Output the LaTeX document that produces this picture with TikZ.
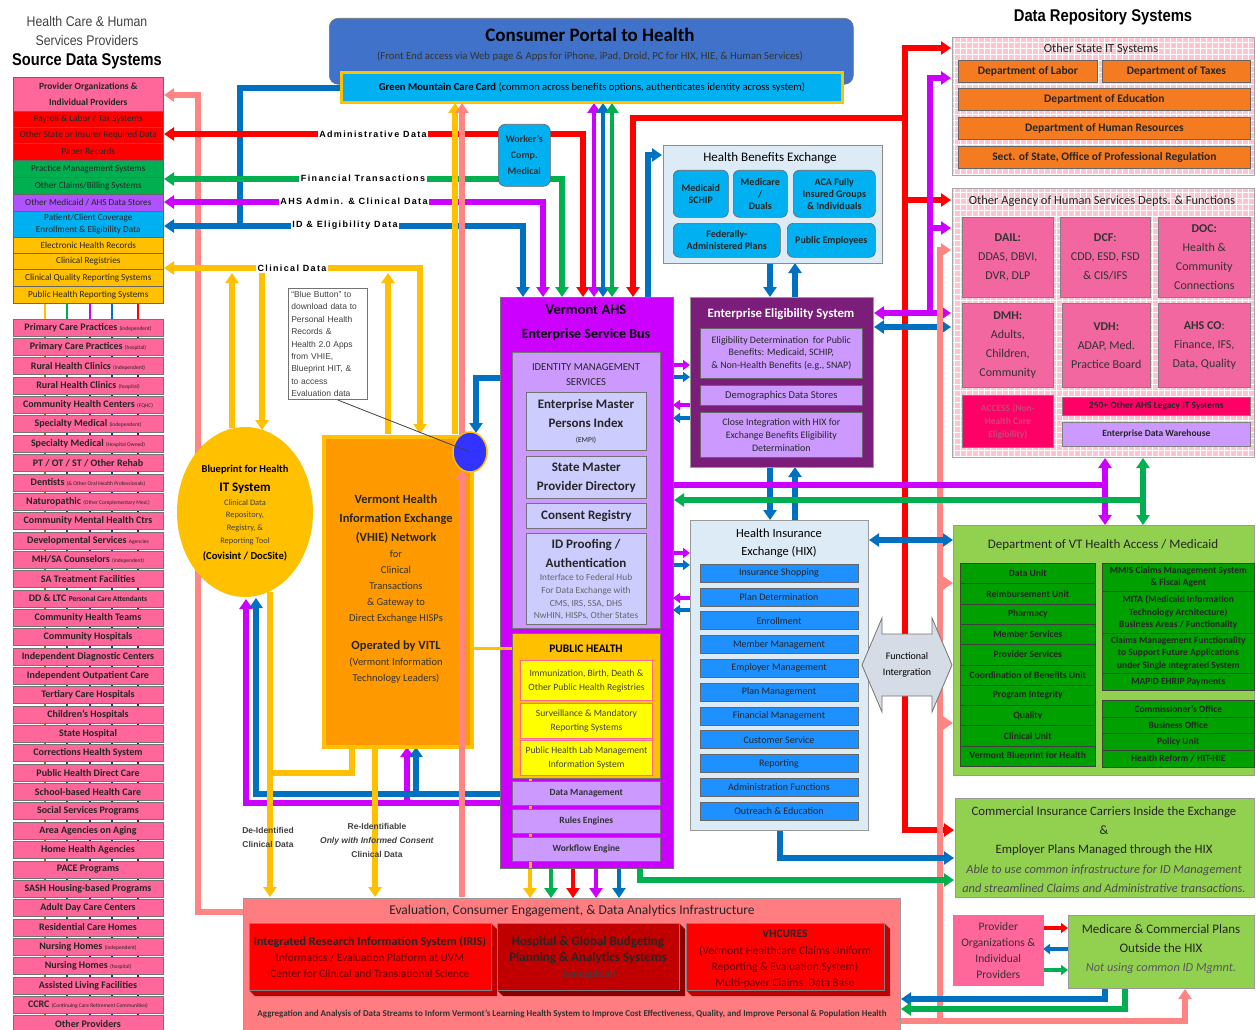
\documentclass[tikz,border=0pt]{standalone}
\usepackage{fontspec}
\usepackage{graphicx}
\setmainfont{Carlito}
\newfontfamily\arialf{Liberation Sans}
\newfontfamily\widef[LetterSpace=15]{Liberation Sans}
\usetikzlibrary{arrows.meta,shapes.geometric}
\newcommand{\smallnote}[1]{{\mdseries\fontsize{5.5}{6}\selectfont #1}}
\definecolor{cpink}{HTML}{FF6699}
\definecolor{cred}{HTML}{FF0000}
\definecolor{cgreen}{HTML}{00B050}
\definecolor{cpurple}{HTML}{CC00FF}
\definecolor{clpurple}{HTML}{B052FF}
\definecolor{ccyan}{HTML}{00B0F0}
\definecolor{cyellow}{HTML}{FFC000}
\definecolor{cblue}{HTML}{0070C0}
\definecolor{csalmon}{HTML}{FF8585}
\definecolor{corange}{HTML}{FF9900}
\definecolor{cportal}{HTML}{3F72C8}
\definecolor{clilac}{HTML}{CC99FF}
\definecolor{cperi}{HTML}{CCCCFF}
\definecolor{cees}{HTML}{7A1E7A}
\definecolor{clightblue}{HTML}{DDEBF7}
\definecolor{chixbtn}{HTML}{1E90FF}
\definecolor{cchk}{HTML}{FFC4D2}
\definecolor{cdept}{HTML}{F47B20}
\definecolor{cahs}{HTML}{F2679F}
\definecolor{chot}{HTML}{FF0066}
\definecolor{clgreen}{HTML}{92D050}
\definecolor{cdgreen}{HTML}{00A000}
\definecolor{cevalbg}{HTML}{FF7C80}
\definecolor{cdred}{HTML}{C00000}
\definecolor{cddred}{HTML}{8A0000}
\definecolor{cbtn}{HTML}{3333FF}
\definecolor{cfunc}{HTML}{D6DCE5}
\definecolor{cphy}{HTML}{FFFF00}
\definecolor{caccTxt}{HTML}{C8487A}
\tikzset{
  bx/.style={draw=black!60, line width=0.6pt, inner sep=1pt, align=center, anchor=north west},
  prow/.style={draw=black!55, fill=cpink, line width=0.6pt, minimum width=150pt, minimum height=17pt, inner sep=0pt, font=\bfseries\fontsize{10}{10}\selectfont, text=black!85},
  trow/.style={bx, minimum width=150pt, inner sep=0pt, font=\fontsize{9.2}{10}\selectfont, text=black!85},
  dl/.style={line width=5.5pt},
  tl/.style={line width=4pt},
  ar1/.style={-{Triangle[width=13pt,length=10pt]}},
  ar2/.style={{Triangle[width=13pt,length=10pt]}-{Triangle[width=13pt,length=10pt]}},
  sar1/.style={-{Triangle[width=10pt,length=7pt]}},
  lbl/.style={fill=white, inner sep=1.5pt, font=\widef\bfseries\fontsize{9}{10}\selectfont},
  txt/.style={align=center, inner sep=0pt},
  ibox/.style={bx, draw=black!55, fill=cperi, minimum width=120pt},
  phbox/.style={bx, draw=cpink, line width=1pt, fill=cphy, minimum width=132pt, font=\fontsize{9.6}{14}\selectfont, text=black!75},
  dmb/.style={bx, draw=black!55, fill=clilac, minimum width=148pt, minimum height=24pt, font=\bfseries\fontsize{9.5}{10}\selectfont, text=black!80},
  hbtn/.style={bx, draw=black!60, fill=ccyan, rounded corners=6pt, font=\bfseries\fontsize{10}{12}\selectfont, text=black!85},
  eesb/.style={bx, draw=black!60, fill=clilac, minimum width=162pt, font=\fontsize{9.9}{12.8}\selectfont, text=black!85},
  dept/.style={bx, draw=black!60, line width=0.8pt, fill=cdept, minimum height=22pt, font=\bfseries\fontsize{11.5}{12}\selectfont, text=black!85},
  ahsb/.style={bx, draw=black!50, fill=cahs, font=\fontsize{12}{19}\selectfont, text=black!80},
  dunit/.style={bx, draw=black!75, fill=cdgreen, inner sep=0pt, font=\bfseries\fontsize{9.6}{10}\selectfont, text=black!85},
  runit/.style={dunit, minimum width=152pt, font=\bfseries\fontsize{9.5}{12.3}\selectfont},
}
\begin{document}
\begin{tikzpicture}[x=1pt,y=-1pt]
\useasboundingbox (0,0) rectangle (1256,1030);
\fill[white] (0,0) rectangle (1256,1030);

% ---------------- left header ----------------
\node[txt, font=\arialf\fontsize{14}{19}\selectfont, text=black!75] (hdr1) at (87,31) {\scalebox{0.88}[1]{Health Care \& Human}\\\scalebox{0.88}[1]{Services Providers}};
\node[txt, font=\arialf\bfseries\fontsize{17}{18}\selectfont] (hdr2) at (87,61) {\scalebox{0.86}[1]{Source Data Systems}};

% colored vertical lines behind provider rows
\foreach \xx/\cc in {45/cyellow,67/cgreen,90/cpurple,112/cblue,138/cred}{
  \draw[line width=2.5pt,\cc] (\xx,303) -- (\xx,320);
  \draw[line width=2.5pt,\cc!60!black] (\xx,320) -- (\xx,1030);
}

% ---------------- connectors (behind boxes) ----------------
\draw[dl,csalmon,ar1] (243,912) -- (198,912) -- (198,95) -- (164,95);
\draw[dl,cblue] (340,88) -- (240,88) -- (240,226);
\draw[dl,cred,ar2] (583,297) -- (583,134) -- (164,134);
\draw[dl,cgreen,ar2] (562,297) -- (562,179) -- (164,179);
\draw[dl,cpurple,ar2] (543,297) -- (543,202) -- (164,202);
\draw[dl,cblue,ar2] (523,297) -- (523,226) -- (164,226);
\draw[dl,cyellow,ar2] (420,434) -- (420,268) -- (164,268);
\draw[dl,cyellow,ar1] (232,428) -- (232,273);
\draw[dl,cyellow,ar1] (262,268) -- (262,430);
\draw[dl,cyellow,ar1] (388,434) -- (388,273);
\draw[dl,cyellow,ar1] (455,434) -- (455,103);
\draw[dl,csalmon,ar1] (462,440) -- (462,103);
\draw[dl,cblue,ar1] (500,378) -- (476,378) -- (476,433);
\draw[tl,cpurple,ar2] (594,297) -- (594,103);
\draw[tl,cblue,ar2] (603,297) -- (603,103);
\draw[tl,cgreen,ar2] (612,297) -- (612,103);
% to data repositories
\draw[dl,cred,ar2] (633,297) -- (633,118) -- (905,118) -- (905,48) -- (951,48);
\draw[dl,cred,ar1] (905,118) -- (905,830) -- (954,830);
\draw[dl,cred,ar1] (905,200) -- (951,200);
\draw[dl,cpurple,ar1] (930,313) -- (930,78) -- (951,78);
\draw[dl,cpurple,ar1] (930,228) -- (951,228);
\draw[dl,cpurple,ar2] (874,313) -- (951,313);
\draw[dl,cblue,ar2] (874,327) -- (951,327);
\draw[dl,csalmon,ar1] (900,1021) -- (940,1021) -- (940,250) -- (951,250);
\draw[dl,csalmon,ar1] (940,1021) -- (1185,1021) -- (1185,989);
\draw[dl,csalmon,ar1] (940,583) -- (953,583);
\draw[dl,csalmon,ar1] (940,723) -- (953,723);
% HBE / EES / HIX
\draw[dl,cblue,ar1] (648,297) -- (648,155) -- (662,155);
\draw[dl,cblue,ar1] (770,263) -- (770,297);
\draw[dl,cblue,ar1] (795,297) -- (795,263);
\draw[dl,cblue,ar1] (770,467) -- (770,520);
\draw[dl,cblue,ar1] (795,520) -- (795,467);
\draw[tl,cpurple,sar1] (673,365) -- (690,365);
\draw[tl,cblue,sar1] (673,377) -- (690,377);
\draw[tl,cpurple,sar1] (690,405) -- (673,405);
\draw[tl,cblue,sar1] (690,418) -- (673,418);
\draw[tl,cpurple,sar1] (673,553) -- (690,553);
\draw[tl,cblue,sar1] (673,565) -- (690,565);
\draw[tl,cpurple,sar1] (690,598) -- (673,598);
\draw[tl,cblue,sar1] (690,610) -- (673,610);
\draw[dl,cpurple] (673,485) -- (1105,485);
\draw[dl,cpurple,ar2] (1105,458) -- (1105,525);
\draw[dl,cgreen,ar1] (1143,500) -- (674,500);
\draw[dl,cgreen,ar2] (1143,458) -- (1143,525);
\draw[dl,cblue,ar2] (869,540) -- (953,540);
\draw[dl,cblue,ar1] (780,830) -- (780,858) -- (954,858);
\draw[dl,cgreen,ar1] (640,868) -- (640,880) -- (954,880);
\draw[tl,cred,sar1] (1043,928) -- (1068,928);
\draw[tl,cblue,sar1] (1068,949) -- (1043,949);
\draw[tl,cgreen,sar1] (1043,970) -- (1068,970);
\draw[dl,cblue,ar1] (1105,988) -- (1105,999) -- (901,999);
\draw[dl,cgreen,ar1] (1125,988) -- (1125,1009) -- (901,1009);
\draw[tl,cyellow,ar1] (530,868) -- (530,898);
\draw[tl,cgreen,ar1] (551,868) -- (551,898);
\draw[tl,cred,ar1] (573,868) -- (573,898);
\draw[tl,cpurple,ar1] (596,868) -- (596,898);
\draw[tl,cblue,ar1] (619,868) -- (619,898);
\draw[dl,cpurple,ar1] (500,803) -- (246,803) -- (246,599);
\draw[dl,cpurple,ar1] (407,803) -- (407,747);
\draw[dl,cblue,ar1] (500,794) -- (256,794) -- (256,598);
\draw[dl,cblue,ar1] (416,794) -- (416,747);
\draw[dl,cyellow,ar1] (270,592) -- (270,897);
\draw[dl,cyellow] (352,745) -- (352,773) -- (270,773);
\draw[dl,cyellow,ar1] (375,745) -- (375,897);

% ---------------- left column ----------------
\node[trow, fill=cpink, minimum height=34pt, font=\bfseries\fontsize{9.5}{16}\selectfont] (p0) at (13,77) {Provider Organizations \&\\Individual Providers};
\node[trow, fill=cred, minimum height=16pt] (p1) at (13,111) {Payroll \& Labor / Tax Systems};
\node[trow, fill=cred, minimum height=16pt] (p2) at (13,127) {Other State or Insurer Required Data};
\node[trow, fill=cred, minimum height=17pt] (p3) at (13,143) {Paper Records};
\node[trow, fill=cgreen, minimum height=17pt] (p4) at (13,160) {Practice Management Systems};
\node[trow, fill=cgreen, minimum height=17pt] (p5) at (13,177) {Other Claims/Billing Systems};
\node[trow, fill=clpurple, minimum height=17pt] (p6) at (13,194) {Other Medicaid / AHS Data Stores};
\node[trow, fill=ccyan, minimum height=26pt, font=\fontsize{9.2}{12}\selectfont] (p7) at (13,211) {Patient/Client Coverage\\Enrollment \& Eligibility Data};
\node[trow, fill=cyellow, minimum height=16pt] (p8) at (13,237) {Electronic Health Records};
\node[trow, fill=cyellow, minimum height=16pt] (p9) at (13,253) {Clinical Registries};
\node[trow, fill=cyellow, minimum height=17pt] (p10) at (13,269) {Clinical Quality Reporting Systems};
\node[trow, fill=cyellow, minimum height=17pt] (p11) at (13,286) {Public Health Reporting Systems};

\foreach \t [count=\i] in {
 {Primary Care Practices \smallnote{(independent)}},
 {Primary Care Practices \smallnote{(hospital)}},
 {Rural Health Clinics \smallnote{(independent)}},
 {Rural Health Clinics \smallnote{(hospital)}},
 {Community Health Centers \smallnote{(FQHC)}},
 {Specialty Medical \smallnote{(independent)}},
 {Specialty Medical \smallnote{(Hospital Owned)}},
 {PT / OT / ST / Other Rehab},
 {Dentists \smallnote{(\& Other Oral Health Professionals)}},
 {Naturopathic \smallnote{(Other Complementary Med.)}},
 {Community Mental Health Ctrs},
 {Developmental Services \smallnote{Agencies}},
 {MH/SA Counselors \smallnote{(independent)}},
 {SA Treatment Facilities},
 {DD \& LTC {\fontsize{7.5}{8}\selectfont Personal Care Attendants}},
 {Community Health Teams},
 {Community Hospitals},
 {Independent Diagnostic Centers},
 {Independent Outpatient Care},
 {Tertiary Care Hospitals},
 {Children’s Hospitals},
 {State Hospital},
 {Corrections Health System},
 {Public Health Direct Care},
 {School-based Health Care},
 {Social Services Programs},
 {Area Agencies on Aging},
 {Home Health Agencies},
 {PACE Programs},
 {SASH Housing-based Programs},
 {Adult Day Care Centers},
 {Residential Care Homes},
 {Nursing Homes \smallnote{(independent)}},
 {Nursing Homes \smallnote{(hospital)}},
 {Assisted Living Facilities},
 {CCRC \smallnote{(Continuing Care Retirement Communities)}},
 {Other Providers}}{
  \node[prow] (r\i) at (88,{327.5+19.35*(\i-1)}) {\t};
}

% ---------------- consumer portal ----------------
\node[bx, draw=black!55, fill=cportal, rounded corners=9pt, minimum width=524pt, minimum height=66pt] (portal) at (329,18) {};
\node[txt, font=\bfseries\fontsize{19}{20}\selectfont] (portalt) at (590,35) {Consumer Portal to Health};
\node[txt, font=\fontsize{10.7}{11}\selectfont, text=black!80] (portals) at (590,57) {(Front End access via Web page \& Apps for iPhone, iPad, Droid, PC for HIX, HIE, \& Human Services)};
\node[bx, draw=cyellow, line width=3pt, fill=ccyan, minimum width=501pt, minimum height=30pt, font=\fontsize{10.6}{11}\selectfont] (gmcc) at (340,71) {\textbf{Green Mountain Care Card} (common across benefits options, authenticates identity across system)};

\node[bx, draw=black!60, fill=ccyan, rounded corners=7pt, minimum width=52pt, minimum height=62pt, font=\bfseries\fontsize{10}{16}\selectfont, text=black!80] (wc) at (498,124) {Worker’s\\Comp.\\Medical};

% ---------------- HBE ----------------
\node[bx, draw=black!45, line width=1pt, fill=clightblue, minimum width=219pt, minimum height=118pt] (hbe) at (663,145) {};
\node[txt, font=\fontsize{13}{14}\selectfont] (hbet) at (770,158) {Health Benefits Exchange};
\node[hbtn, minimum width=55pt, minimum height=47pt] (hb1) at (673,170) {Medicaid\\SCHIP};
\node[hbtn, minimum width=54pt, minimum height=47pt] (hb2) at (733,170) {Medicare\\/\\Duals};
\node[hbtn, minimum width=82pt, minimum height=47pt] (hb3) at (793,170) {ACA Fully\\Insured Groups\\\& Individuals};
\node[hbtn, minimum width=107pt, minimum height=34pt] (hb4) at (673,223) {Federally-\\Administered Plans};
\node[hbtn, minimum width=88pt, minimum height=34pt] (hb5) at (787,223) {Public Employees};

% ---------------- ESB ----------------
\node[bx, draw=black!55, fill=cpurple, minimum width=173pt, minimum height=571pt] (esb) at (500,297) {};
\node[txt, font=\bfseries\fontsize{14.5}{15}\selectfont] (esbt1) at (586,310) {Vermont AHS};
\node[txt, font=\bfseries\fontsize{14}{15}\selectfont] (esbt2) at (586,335) {Enterprise Service Bus};
\draw[line width=3pt,cyellow] (530,778) -- (530,868);
\node[bx, draw=black!55, fill=clilac, minimum width=148pt, minimum height=276pt] (idm) at (512,352) {};
\node[txt, font=\fontsize{10.6}{15}\selectfont, text=black!85] (idmt) at (586,374.5) {IDENTITY MANAGEMENT\\SERVICES};
\node[ibox, minimum height=58pt] (empi) at (526,392) {};
\node[txt, font=\bfseries\fontsize{13}{19}\selectfont, text=black!85] (empit) at (586,413.5) {Enterprise Master\\Persons Index};
\node[txt, font=\fontsize{7.5}{8}\selectfont, text=black!85] (empis) at (586,440) {(EMPI)};
\node[ibox, minimum height=42pt, font=\bfseries\fontsize{13}{19}\selectfont, text=black!85] (smpd) at (526,456) {State Master\\Provider Directory};
\node[ibox, minimum height=25pt, font=\bfseries\fontsize{13}{14}\selectfont, text=black!85] (cons) at (526,503) {Consent Registry};
\node[ibox, minimum height=91pt] (idp) at (526,533) {};
\node[txt, font=\bfseries\fontsize{13}{19}\selectfont, text=black!85] (idpt) at (586,553.5) {ID Proofing /\\Authentication};
\node[txt, font=\fontsize{9.4}{12.7}\selectfont, text=black!60] (idps) at (586,597) {Interface to Federal Hub\\For Data Exchange with\\CMS, IRS, SSA, DHS\\NwHIN, HISPs, Other States};
\node[bx, draw=black!55, fill=cyellow, minimum width=148pt, minimum height=145pt] (ph) at (512,633) {};
\node[txt, font=\bfseries\fontsize{11.5}{12}\selectfont] (pht) at (586,649) {PUBLIC HEALTH};
\node[phbox, minimum height=40pt] (ph1) at (520,660) {Immunization, Birth, Death \&\\Other Public Health Registries};
\node[phbox, minimum height=35pt] (ph2) at (520,703) {Surveillance \& Mandatory\\Reporting Systems};
\node[phbox, minimum height=35pt] (ph3) at (520,740) {Public Health Lab Management\\Information System};
\node[dmb] (dm) at (512,781) {Data Management};
\node[dmb] (re) at (512,809) {Rules Engines};
\node[dmb] (wf) at (512,837) {Workflow Engine};

% ---------------- EES ----------------
\node[bx, draw=black!40, line width=1pt, fill=cees, minimum width=183pt, minimum height=170pt] (ees) at (690,297) {};
\node[txt, text=white, font=\bfseries\fontsize{12.8}{13}\selectfont] (eest) at (781,314) {Enterprise Eligibility System};
\node[eesb, minimum height=50pt] (ees1) at (700,328) {Eligibility Determination~ for Public\\Benefits: Medicaid, SCHIP,\\\& Non-Health Benefits (e.g., SNAP)};
\node[eesb, minimum height=20pt, font=\fontsize{10.5}{11}\selectfont] (ees2) at (700,385) {Demographics Data Stores};
\node[eesb, minimum height=45pt] (ees3) at (700,412) {Close Integration with HIX for\\Exchange Benefits Eligibility\\Determination};

% ---------------- HIX ----------------
\node[bx, draw=black!40, line width=1pt, fill=clightblue, minimum width=178pt, minimum height=310pt] (hix) at (690,520) {};
\node[txt, font=\fontsize{12.5}{18}\selectfont] (hixt) at (779,543) {Health Insurance\\Exchange (HIX)};
\foreach \t [count=\i] in {Insurance Shopping, Plan Determination, Enrollment, Member Management, Employer Management, Plan Management, Financial Management, Customer Service, Reporting, Administration Functions, Outreach \& Education}{
  \node[draw=black!60, fill=chixbtn, minimum width=158pt, minimum height=18pt, inner sep=0pt, font=\fontsize{10}{10}\selectfont, text=black!85] (hx\i) at (779,{573+23.8*(\i-1)}) {\t};
}

% functional integration arrow
\filldraw[fill=cfunc, draw=black!55, line width=0.8pt] (862,665) -- (882,618) -- (882,634) -- (932,634) -- (932,618) -- (952,665) -- (932,712) -- (932,696) -- (882,696) -- (882,712) -- cycle;
\node[txt, font=\fontsize{10}{16}\selectfont] (fi) at (907,665) {Functional\\Intergration};

% ---------------- Blueprint / VHIE ----------------
\node[ellipse, fill=cyellow, minimum width=136pt, minimum height=170pt, inner sep=0pt] (bp) at (245,512) {};
\node[txt, font=\bfseries\fontsize{10.5}{11}\selectfont] (bpt1) at (245,470) {Blueprint for Health};
\node[txt, font=\bfseries\fontsize{13}{14}\selectfont] (bpt2) at (245,488) {IT System};
\node[txt, font=\fontsize{8.4}{12.7}\selectfont, text=black!75] (bpt3) at (245,522) {Clinical Data\\Repository,\\Registry, \&\\Reporting Tool};
\node[txt, font=\bfseries\fontsize{10.6}{11}\selectfont] (bpt4) at (245,556) {(Covisint / DocSite)};

\node[bx, draw=cyellow, line width=4pt, fill=corange, minimum width=148pt, minimum height=310pt] (vhie) at (322,435) {};
\node[txt, font=\bfseries\fontsize{12.5}{19}\selectfont, text=black!85] (vh1) at (396,519) {Vermont Health\\Information Exchange\\(VHIE) Network};
\node[txt, font=\fontsize{10.5}{16}\selectfont, text=black!80] (vh2) at (396,587) {for\\Clinical\\Transactions\\\& Gateway to\\Direct Exchange HISPs};
\node[txt, font=\bfseries\fontsize{12.5}{13}\selectfont, text=black!85] (vh3) at (396,646) {Operated by VITL};
\node[txt, font=\fontsize{10.5}{16}\selectfont, text=black!80] (vh4) at (396,671) {(Vermont Information\\Technology Leaders)};
\draw[dl,csalmon,ar1] (462,897) -- (462,470);
\draw[line width=3pt,cyellow] (472,648) -- (512,648);
\node[ellipse, draw=cyellow, line width=1.5pt, fill=cbtn, minimum width=34pt, minimum height=40pt, inner sep=0pt] (bb) at (470,452) {};

\node[bx, draw=black!55, fill=white, text width=73pt, align=left, inner sep=3pt, font=\arialf\fontsize{8.5}{12.4}\selectfont, text=black!75] (cb) at (288,288) {“Blue Button” to\\download data to\\Personal Health\\Records \&\\Health 2.0 Apps\\from VHIE,\\Blueprint HIT, \&\\to access\\Evaluation data};
\draw[black!75, line width=0.8pt] ([xshift=10pt]cb.south) -- (bb.center);

\node[txt, font=\arialf\bfseries\fontsize{8.5}{14}\selectfont, text=black!75] (deid) at (268,837) {De-Identified\\Clinical Data};
\node[txt, font=\arialf\bfseries\fontsize{8.5}{14}\selectfont, text=black!75] (reid) at (377,840) {Re-Identifiable\\\textit{Only with Informed Consent}\\Clinical Data};

% ---------------- evaluation bar ----------------
\node[bx, draw=black!40, fill=cevalbg, minimum width=657pt, minimum height=132pt] (eval) at (243,898) {};
\node[txt, font=\fontsize{13.5}{14}\selectfont, text=black!85] (evt) at (572,911) {Evaluation, Consumer Engagement, \& Data Analytics Infrastructure};
\fill[cdred] (491,923) -- (497,929) -- (497,996) -- (255,996) -- (249,990) -- (491,990) -- cycle;
\fill[cddred] (679,923) -- (685,929) -- (685,996) -- (503,996) -- (497,990) -- (679,990) -- cycle;
\fill[cdred] (884,923) -- (890,929) -- (890,996) -- (692,996) -- (686,990) -- (884,990) -- cycle;
\node[bx, draw=black!50, fill=cred, minimum width=242pt, minimum height=67pt] (iris) at (249,923) {};
\node[bx, draw=black!50, fill=cdred, minimum width=182pt, minimum height=67pt] (hosp) at (497,923) {};
\node[bx, draw=black!50, fill=cred, minimum width=198pt, minimum height=67pt] (vhc) at (686,923) {};
\node[txt, font=\bfseries\fontsize{12.2}{13}\selectfont, text=black!85] (irist) at (370,942) {Integrated Research Information System (IRIS)};
\node[txt, font=\fontsize{11.3}{16}\selectfont, text=red!40!black] (iriss) at (370,966) {Informatics / Evaluation Platform at UVM\\Center for Clinical and Translational Science};
\node[txt, font=\bfseries\fontsize{13}{16}\selectfont, text=black!85] (hospt) at (588,950) {Hospital \& Global Budgeting\\Planning \& Analytics Systems};
\node[txt, font=\fontsize{11}{12}\selectfont, text=black!75] (hosps) at (588,974) {(conceptual)};
\node[txt, font=\bfseries\fontsize{11.5}{12}\selectfont, text=black!85] (vhct) at (785,934) {VHCURES};
\node[txt, font=\fontsize{11.5}{16}\selectfont, text=red!40!black] (vhcs) at (785,967) {(Vermont Healthcare Claims Uniform\\Reporting \& Evaluation System)\\Multi-payer Claims~ Data Base};
\node[txt, font=\bfseries\fontsize{9}{10}\selectfont, text=black!80] (evb) at (572,1014) {Aggregation and Analysis of Data Streams to Inform Vermont’s Learning Health System to Improve Cost Effectiveness, Quality, and Improve Personal \& Population Health};

% ---------------- right side ----------------
\node[txt, font=\arialf\bfseries\fontsize{17}{18}\selectfont] (drs) at (1103,17) {\scalebox{0.87}[1]{Data Repository Systems}};
\node[bx, draw=none, fill=cchk, minimum width=302pt, minimum height=138pt] (osit) at (952,37) {};
\draw[white, line width=0.6pt] (952,37) grid[step=6pt] (1254,175);
\draw[black!35, line width=0.8pt] (osit.north west) rectangle (osit.south east);
\node[txt, font=\fontsize{12.5}{13}\selectfont, text=black!85] (osits) at (1101,49) {Other State IT Systems};
\node[dept, minimum width=139pt] (dol) at (958,60) {Department of Labor};
\node[dept, minimum width=148pt] (dot) at (1102,60) {Department of Taxes};
\node[dept, minimum width=292pt] (doe) at (958,88) {Department of Education};
\node[dept, minimum width=292pt] (dhr) at (958,117) {Department of Human Resources};
\node[dept, minimum width=292pt] (sos) at (958,146) {Sect. of State, Office of Professional Regulation};

\node[bx, draw=none, fill=cchk, minimum width=302pt, minimum height=269pt] (oahs) at (952,188) {};
\draw[white, line width=0.6pt] (952,188) grid[step=6pt] (1254,457);
\draw[black!35, line width=0.8pt] (oahs.north west) rectangle (oahs.south east);
\node[txt, font=\fontsize{12.5}{13}\selectfont, text=black!85] (oahst) at (1102,201) {Other Agency of Human Services Depts. \& Functions};
\node[ahsb, minimum width=91pt, minimum height=80pt] (dail) at (962,217) {\textbf{DAIL:}\\DDAS, DBVI,\\DVR, DLP};
\node[ahsb, minimum width=90pt, minimum height=80pt] (dcf) at (1060,217) {\textbf{DCF}:\\CDD, ESD, FSD\\\& CIS/IFS};
\node[ahsb, minimum width=92pt, minimum height=80pt] (doc) at (1158,217) {\textbf{DOC:}\\Health \&\\Community\\Connections};
\node[ahsb, minimum width=91pt, minimum height=84pt] (dmh) at (962,303) {\textbf{DMH:}\\Adults,\\Children,\\Community};
\node[ahsb, minimum width=88pt, minimum height=84pt] (vdh) at (1062,303) {\textbf{VDH:}\\ADAP, Med.\\Practice Board};
\node[ahsb, minimum width=92pt, minimum height=84pt] (ahsco) at (1158,303) {\textbf{AHS CO}:\\Finance, IFS,\\Data, Quality};
\node[bx, draw=black!50, fill=chot, minimum width=91pt, minimum height=52pt, font=\bfseries\fontsize{9.5}{13}\selectfont, text=caccTxt] (access) at (962,395) {ACCESS (Non-\\Health Care\\Eligibility)};
\node[bx, draw=black!50, fill=chot, minimum width=188pt, minimum height=18pt, font=\bfseries\fontsize{9.5}{10}\selectfont, text=black!85] (legacy) at (1062,397) {250+ Other AHS Legacy IT Systems};
\node[bx, draw=black!50, fill=clilac, minimum width=188pt, minimum height=24pt, font=\bfseries\fontsize{9.5}{10}\selectfont, text=black!85] (edw) at (1062,422) {Enterprise Data Warehouse};

\node[bx, draw=black!40, line width=0.8pt, fill=clgreen, minimum width=301pt, minimum height=250pt] (dvha) at (953,525) {};
\node[txt, font=\fontsize{13}{14}\selectfont, text=black!85] (dvhat) at (1103,545) {Department of VT Health Access / Medicaid};
\foreach \t [count=\i] in {Data Unit, Reimbursement Unit, Pharmacy, Member Services, Provider Services, Coordination of Benefits Unit, Program Integrity, Quality, Clinical Unit, Vermont Blueprint for Health}{
  \node[dunit, minimum width=135pt, minimum height=20.3pt] (du\i) at (960,{563+20.3*(\i-1)}) {\t};
}
\node[runit, minimum height=28pt] (mmis) at (1102,563) {MMIS Claims Management System\\\& Fiscal Agent};
\node[runit, minimum height=42pt] (mita) at (1102,591) {MITA (Medicaid Information\\Technology Architecture)\\Business Areas / Functionality};
\node[runit, minimum height=40pt] (cmf) at (1102,633) {Claims Management Functionality\\to Support Future Applications\\under Single Integrated System};
\node[runit, minimum height=17pt] (mapid) at (1102,673) {MAPID EHRIP Payments};
\node[runit, minimum height=17pt] (comm1) at (1102,700) {Commissioner’s Office};
\node[runit, minimum height=16pt] (comm2) at (1102,717) {Business Office};
\node[runit, minimum height=17pt] (comm3) at (1102,733) {Policy Unit};
\node[runit, minimum height=17pt] (comm4) at (1102,750) {Health Reform / HIT-HIE};

\node[bx, draw=black!40, line width=0.8pt, fill=clgreen, minimum width=299pt, minimum height=99pt] (cic) at (955,798) {};
\node[txt, font=\fontsize{12.8}{19}\selectfont, text=black!85] (cict) at (1104,831) {Commercial Insurance Carriers Inside the Exchange\\\&\\Employer Plans Managed through the HIX};
\node[txt, font=\itshape\fontsize{12.4}{19}\selectfont, text=black!70] (cics) at (1104,878.5) {Able to use common infrastructure for ID Management\\and streamlined Claims and Administrative transactions.};

\node[bx, draw=black!40, fill=cpink, minimum width=90pt, minimum height=70pt, font=\fontsize{11.5}{16}\selectfont, text=black!80] (prov) at (953,915) {Provider\\Organizations \&\\Individual\\Providers};
\node[bx, draw=black!40, line width=0.8pt, fill=clgreen, minimum width=186pt, minimum height=73pt] (medi) at (1068,915) {};
\node[txt, font=\fontsize{13}{19}\selectfont, text=black!85] (medit) at (1161,938.5) {Medicare \& Commercial Plans\\Outside the HIX};
\node[txt, font=\itshape\fontsize{12.3}{13}\selectfont, text=black!65] (medis) at (1161,968) {Not using common ID Mgmnt.};

% ---------------- line labels ----------------
\node[lbl] (l1) at (373,134) {Administrative Data};
\node[lbl] (l2) at (363,178) {Financial Transactions};
\node[lbl] (l3) at (354,201) {AHS Admin. \& Clinical Data};
\node[lbl] (l4) at (345,225) {ID \& Eligibility Data};
\node[lbl] (l5) at (292,268) {Clinical Data};
\end{tikzpicture}
\end{document}
